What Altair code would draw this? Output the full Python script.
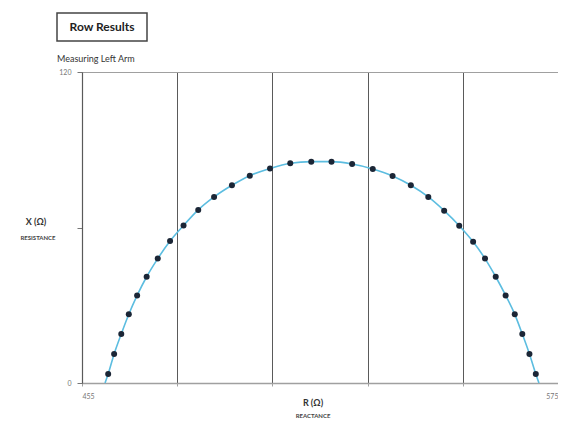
import altair as alt
import pandas as pd

# ---- data ----
resistance = [461.6, 463.1, 464.9, 466.8, 468.9, 471.3, 474.1, 477.2, 480.6, 484.3,
              488.3, 492.8, 497.3, 502.4, 507.5, 512.8, 517.9, 523.1, 528.3, 533.3,
              537.9, 542.3, 546.3, 550.1, 553.6, 556.6, 559.3, 561.8, 564.1, 566.0,
              567.8, 569.4]
reactance = [3.5, 11.2, 18.9, 26.5, 33.8, 41.0, 48.0, 54.8, 60.8, 66.8,
             71.8, 76.3, 80.0, 82.8, 84.8, 85.4, 85.4, 84.5, 82.6, 79.9,
             76.3, 71.8, 66.5, 60.7, 54.5, 48.0, 41.0, 33.8, 26.5, 18.9,
             11.2, 3.5]
curve_r = [460.8] + resistance + [570.2]
curve_x = [0.0] + reactance + [0.0]

x_ticks = [455, 479, 503, 527, 551, 575]
y_ticks = [0, 60, 120]

title_text = "Row Results"
subtitle_text = "Measuring Left Arm"
y_title = "X (Ω)"
y_sub = "RESISTANCE"
x_title = "R (Ω)"
x_sub = "REACTANCE"

FONT = "Lato"
W, H = 476, 311

pts = pd.DataFrame({"r": resistance, "x": reactance})
curve = pd.DataFrame({"r": curve_r, "x": curve_x, "i": list(range(len(curve_r)))})
one = pd.DataFrame({"k": [0]})

xs = alt.Scale(domain=[455, 575], nice=False, zero=False)
ys = alt.Scale(domain=[0, 120], nice=False, zero=False)

x_axis = alt.Axis(
    values=x_ticks, grid=True, gridColor="#5a5a5a", gridWidth=1,
    domainColor="#a0a0a0", domainWidth=1.5, tickColor="#a0a0a0", tickSize=3,
    labelExpr="datum.value == 455 || datum.value == 575 ? datum.label : ''",
    labelFontSize=7, labelColor="#777", labelPadding=6, labelFont=FONT, title=None,
)
y_axis = alt.Axis(
    values=y_ticks, grid=False, domainColor="#5a5a5a", domainWidth=1.2,
    tickColor="#777", tickSize=5,
    labelExpr="datum.value == 60 ? '' : datum.label",
    labelFontSize=7, labelColor="#777", labelPadding=6, labelFont=FONT, title=None,
)

line = alt.Chart(curve).mark_line(
    color="#5cbde0", strokeWidth=1.6, interpolate="monotone"
).encode(
    x=alt.X("r:Q", scale=xs, axis=x_axis),
    y=alt.Y("x:Q", scale=ys, axis=y_axis),
    order="i:Q",
)

dots = alt.Chart(pts).mark_circle(color="#1b2636", opacity=1, size=36).encode(
    x=alt.X("r:Q", scale=xs, axis=alt.Axis(orient="top", labels=False, ticks=False,
                                            grid=False, domainColor="#a0a0a0",
                                            domainWidth=1.2, title=None)),
    y=alt.Y("x:Q", scale=ys),
)


def note(text, x, y, size, weight="normal", color="#222", align="center"):
    return alt.Chart(one).mark_text(
        text=text, fontSize=size, fontWeight=weight, color=color, align=align,
        baseline="middle", font=FONT,
    ).encode(x=alt.value(x), y=alt.value(y))


box = alt.Chart(one).mark_rect(
    fillOpacity=0, stroke="#444", strokeWidth=1.5
).encode(x=alt.value(-25), x2=alt.value(65), y=alt.value(-59), y2=alt.value(-31))

chart = alt.layer(
    line, dots, box,
    note(title_text, 20, -45, 12, "bold", "#222"),
    note(subtitle_text, -25, -13, 9, "normal", "#333", "left"),
    note(y_title, -46, 150, 9, "bold", "#333"),
    note(y_sub, -44, 166, 6, "bold", "#444"),
    note(x_title, 231, 331, 9, "bold", "#333"),
    note(x_sub, 231, 344, 6, "bold", "#444"),
).resolve_axis(x="independent").properties(
    width=W, height=H,
    padding={"left": 74, "top": 64, "right": 0, "bottom": 37},
    autosize=alt.AutoSizeParams(type="none"),
).configure_view(stroke=None)

chart.save("out.html", embed_options={"renderer": "svg", "actions": False})
